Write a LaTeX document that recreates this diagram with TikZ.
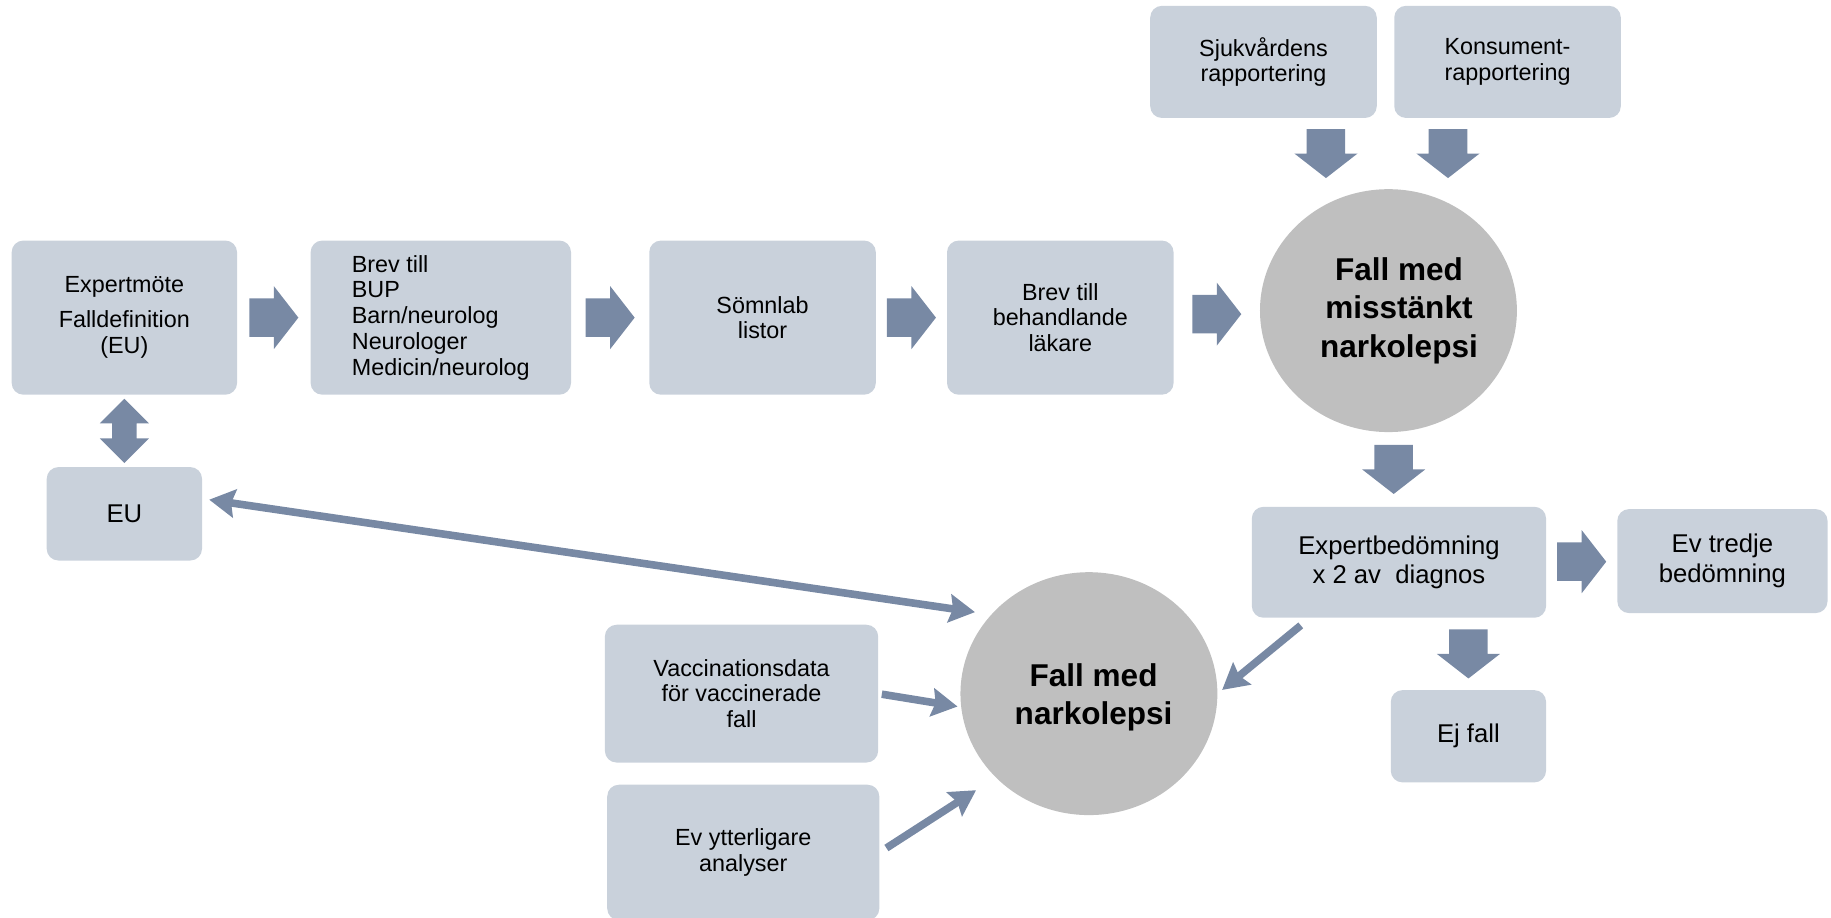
\documentclass[tikz,border=0pt]{standalone}
\usepackage{fontspec}
\setmainfont{Liberation Sans}
\usetikzlibrary{shapes.geometric, arrows.meta, calc}

\definecolor{boxgray}{HTML}{C9D1DB}
\definecolor{arrowblue}{HTML}{7889A4}
\definecolor{casegray}{HTML}{BFBFBF}

\tikzset{
    stepbox/.style={rectangle, rounded corners=10pt, fill=boxgray, inner sep=0pt, align=center,
        font=\fontsize{20}{22}\selectfont},
    bigbox/.style={stepbox, font=\fontsize{22}{25.5}\selectfont},
    casenode/.style={ellipse, fill=casegray, inner sep=0pt, minimum width=220pt, minimum height=208pt},
    casetext/.style={align=center, inner sep=0pt, font=\fontsize{27}{33}\selectfont\bfseries},
    thinarrow/.style={draw=arrowblue, line width=6.5pt},
    >={Stealth[length=22pt, width=24pt, inset=3pt]},
    rightblock/.pic={\fill[arrowblue] (-21,-16.5) -- (0,-16.5) -- (0,-27) -- (21,0) -- (0,27) -- (0,16.5) -- (-21,16.5) -- cycle;},
    downblock/.pic={\fill[arrowblue] (-16.5,-21) -- (16.5,-21) -- (16.5,0) -- (27,0) -- (0,21) -- (-27,0) -- (-16.5,0) -- cycle;},
    updownblock/.pic={\fill[arrowblue] (0,-27.5) -- (21,-6.5) -- (10.5,-6.5) -- (10.5,6.5) -- (21,6.5) -- (0,27.5)
        -- (-21,6.5) -- (-10.5,6.5) -- (-10.5,-6.5) -- (-21,-6.5) -- cycle;}
}

\begin{document}
\begin{tikzpicture}[x=1pt, y=-1pt]
    \useasboundingbox (0, 0) rectangle (1568, 785.3);
    \clip (0, 0) rectangle (1568, 785.3);

    % Top row
    \node[stepbox, minimum width=193pt, minimum height=132pt] (expm) at (106.5, 272) {Expertmöte\\[8pt]Falldefinition\\(EU)};
    \node[stepbox, minimum width=223pt, minimum height=132pt, align=left] (brev) at (377.5, 272) {Brev till\\BUP\\Barn/neurolog\\Neurologer\\Medicin/neurolog};
    \node[stepbox, minimum width=194pt, minimum height=132pt] (somn) at (653, 272) {Sömnlab\\listor};
    \node[stepbox, minimum width=194pt, minimum height=132pt] (lak) at (908, 272) {Brev till\\behandlande\\läkare};
    \node[casenode] (misst) at (1189, 266) {};
    \node[casetext] (misstText) at ($(misst.center)+(9,0)$) {Fall med\\misstänkt\\narkolepsi};

    % Reports
    \node[stepbox, minimum width=194pt, minimum height=96pt] (sjuk) at (1082, 53) {Sjukvårdens\\rapportering};
    \node[stepbox, minimum width=194pt, minimum height=96pt] (kons) at (1291, 53) {Konsument-\\rapportering};

    % Assessment
    \node[bigbox, minimum width=252pt, minimum height=95pt] (bedom) at (1198, 481.5) {Expertbedömning\\x 2 av\ \ diagnos};
    \node[bigbox, minimum width=180pt, minimum height=89pt] (tredje) at (1475, 480.5) {Ev tredje\\bedömning};
    \node[bigbox, minimum width=133pt, minimum height=79pt] (ejfall) at (1257.5, 630.5) {Ej fall};

    % Bottom
    \node[bigbox, minimum width=133pt, minimum height=80pt] (eu) at (106.5, 440) {EU};
    \node[casenode] (narko) at (932.5, 594) {};
    \node[casetext] (narkoText) at ($(narko.center)+(4,3)$) {Fall med\\narkolepsi};
    \node[stepbox, minimum width=234pt, minimum height=118pt] (vacc) at (635, 594) {Vaccinationsdata\\för vaccinerade\\fall};
    \node[stepbox, minimum width=233pt, minimum height=116pt] (analys) at (636.5, 730) {Ev ytterligare\\analyser};

    % Block arrows
    \pic at ($(expm.east)!0.5!(brev.west)$) {rightblock};
    \pic at ($(brev.east)!0.5!(somn.west)$) {rightblock};
    \pic at ($(somn.east)!0.5!(lak.west)$) {rightblock};
    \pic at ($(lak.east)!0.5!(misst.west)$) {rightblock};
    \pic at ($(sjuk.south)!0.5!(misst.north)$) {downblock};
    \pic at ($(kons.south)!0.5!(misst.north)$) {downblock};
    \pic at ($(misst.south)!0.5!(bedom.north)$) {downblock};
    \pic at ($(bedom.east)!0.5!(tredje.west)$) {rightblock};
    \pic at ($(ejfall.north)!0.5!(ejfall.north |- bedom.south)$) {downblock};
    \pic at ($(expm.south)!0.5!(eu.north)$) {updownblock};

    % Line arrows
    \draw[thinarrow, <->, shorten <=6pt, shorten >=14pt] (eu.11) -- (narko.141);
    \draw[thinarrow, ->, shorten <=3pt, shorten >=3pt] (vacc.east) -- (narko.186);
    \draw[thinarrow, ->, shorten <=7pt, shorten >=20pt] (analys.east) -- (narko.222);
    \draw[thinarrow, ->, shorten <=10pt, shorten >=5pt] (bedom.212) -- (narko.east);
\end{tikzpicture}
\end{document}
